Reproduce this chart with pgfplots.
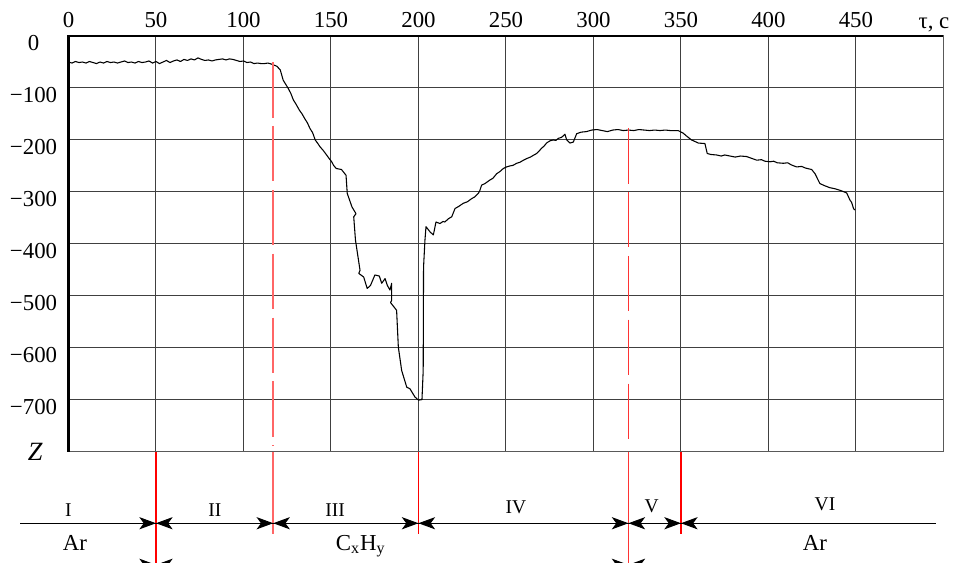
\documentclass[border=0pt]{standalone}
\usepackage{pgfplots}
\pgfplotsset{compat=1.18}
\usepackage{fontspec}
\setmainfont{Liberation Serif}
\usetikzlibrary{arrows.meta}

% boundary mark: two arrowheads meeting at x=#1, on the row y=#2
\newcommand{\bnd}[2]{%
  \draw[-{Stealth[length=0.3cm,width=0.22cm,inset=0.08cm]}, line width=0.5pt] (axis cs:#1-10,#2) -- (axis cs:#1,#2);
  \draw[-{Stealth[length=0.3cm,width=0.22cm,inset=0.08cm]}, line width=0.5pt] (axis cs:#1+10,#2) -- (axis cs:#1,#2);}

\begin{document}
\begin{tikzpicture}
\begin{axis}[
  scale only axis,
  width=15.75cm, height=7.48cm,
  xmin=0, xmax=500, ymin=-800, ymax=0,
  axis line style={black!65, line width=0.7pt},
  xtick={0,50,...,450},
  ytick={-700,-600,...,0},
  yticklabels={−700,−600,−500,−400,−300,−200,−100,0},
  xticklabel pos=upper,
  major tick length=0pt,
  grid=major,
  major grid style={black!75, line width=0.5pt},
  /pgf/number format/assume math mode=true,
  tick label style={font=\fontsize{11.7}{13}\selectfont, inner sep=0pt},
  xticklabel style={anchor=south, yshift=4.1pt},
  yticklabel style={anchor=north, xshift=-17.9pt, yshift=0.5pt},
  clip=false,
]
\addplot[black, line width=0.55pt, line join=round] coordinates {
(0,-50) (2,-52) (4,-49) (6,-51) (8,-50) (10,-52) (12,-49) (14,-51) (16,-53) (18,-50)
(20,-52) (22,-49) (24,-51) (26,-50) (28,-52) (30,-50) (32,-48) (34,-51) (36,-50) (38,-52)
(40,-49) (42,-51) (44,-50) (46,-48) (48,-52) (50,-49) (52,-53) (54,-50) (56,-47) (58,-51)
(60,-48) (62,-46) (64,-49) (66,-45) (68,-47) (70,-44) (72,-46) (74,-42) (76,-45) (78,-47)
(80,-46) (82,-48) (84,-46) (86,-45) (88,-44) (90,-46) (92,-44) (94,-45) (96,-47) (98,-49)
(100,-48) (102,-51) (104,-50) (106,-53) (108,-52) (110,-53) (112,-53) (114,-52) (116,-54)
(119,-58) (121,-65) (122.7,-85) (125.6,-101) (127,-110) (128.5,-123) (130,-131) (132,-143)
(133.5,-150) (135,-159) (136.5,-167) (138,-178) (139.5,-186) (141,-200) (142.5,-207)
(143.7,-213) (145.5,-220) (147.5,-229) (149,-236) (150.4,-242) (151.5,-249) (153,-255)
(156,-257) (158.6,-268)
(159.3,-303) (162,-329) (164.3,-342) (163,-348) (164,-393) (166.6,-451) (165.9,-457)
(168.7,-464) (170.7,-486) (172.6,-480) (175.1,-460) (177.6,-462) (179,-476) (180.9,-467)
(182.2,-480) (183.7,-489) (184.7,-476) (184.7,-509) (184,-513) (187.5,-528) (188.5,-599)
(190.4,-644) (193.3,-676) (195.1,-679) (198,-695) (200,-701) (202,-700) (202.7,-644)
(202.9,-445) (203.7,-393) (204.3,-367) (206.6,-377) (208.5,-383) (210,-358) (212.3,-361)
(214,-357) (215.1,-358) (217,-352) (219,-348) (220.9,-332) (223,-328) (225.6,-322)
(228,-319) (230.4,-313) (232,-310) (234.2,-303) (235,-298) (236.1,-287) (238,-284)
(240.9,-277) (242.5,-274) (244.7,-265) (246.5,-261) (248.5,-255) (250.3,-252) (252.3,-250)
(254,-249) (256.1,-245) (258,-243) (260,-239) (261.8,-236) (264,-233) (266,-229)
(267.6,-226) (269,-221) (270.4,-216) (272,-211) (273.2,-206) (275,-202) (277,-200)
(278.5,-201) (279.9,-197) (281.8,-195) (283.7,-189) (284.7,-200)
(286.6,-206) (288.5,-204) (290.4,-188) (293,-185) (296,-184) (299,-181) (302,-180)
(305,-182) (308,-184) (311,-181) (314,-180) (317,-182) (320,-181) (323,-182) (326,-180)
(329,-181) (332,-182) (335,-181) (338,-182) (341,-181) (344,-182) (348.4,-182)
(351.3,-187) (353,-192) (356,-200) (358,-203) (359.9,-206) (363.7,-207) (365,-226)
(367,-228) (370.4,-229) (373,-231) (375,-229) (378,-231) (381,-233) (384,-231)
(387.5,-232) (390,-235) (393.3,-239) (396,-238) (398,-241) (400.9,-242) (403,-241)
(405,-244) (408.5,-245) (411,-244) (413,-248) (416.1,-252) (419,-251) (421,-254)
(424.7,-257) (426.6,-265)
(429.4,-284) (432,-288) (435.1,-292) (438,-294) (440.9,-297) (444.7,-302) (446.6,-316)
(447.5,-320) (448.6,-332) (449.4,-335)
};
% heavy left and top axis lines
\draw[black, line width=1.3pt] (axis cs:0,-800) -- (axis cs:0,0) -- (axis cs:500,0);
\node[font=\fontsize{11.7}{13}\selectfont, anchor=base, inner sep=0pt] at (axis cs:494.6,0) [yshift=4.1pt] {τ, c};
\node[font=\fontsize{13.5}{15}\selectfont\itshape] at (axis cs:-19,-800) {Z};
% red boundary lines
\draw[red, line width=0.55pt] (axis cs:50,-800) -- (axis cs:50,-1030);
\draw[red!60, line width=1pt, dash pattern=on 1cm off 0.15cm] (axis cs:117,-50) -- (axis cs:117,-790);
\draw[red!60, line width=0.8pt] (axis cs:117,-800) -- (axis cs:117,-958);
\draw[red, line width=0.55pt] (axis cs:200,-800) -- (axis cs:200,-958);
\draw[red!80, line width=0.8pt, dash pattern=on 1cm off 0.15cm] (axis cs:320,-177) -- (axis cs:320,-790);
\draw[red!80, line width=0.6pt] (axis cs:320,-800) -- (axis cs:320,-1030);
\draw[red, line width=0.55pt] (axis cs:350,-800) -- (axis cs:350,-958);
% stage row
\draw[black, line width=0.5pt] (axis cs:-27.7,-938) -- (axis cs:496,-938);
\bnd{50}{-938}
\bnd{117}{-938}
\bnd{200}{-938}
\bnd{320}{-938}
\bnd{350}{-938}
\bnd{50}{-1018}
\bnd{320}{-1018}
\begin{scope}[every node/.style={font=\fontsize{10}{12}\selectfont, anchor=base, inner sep=0pt}]
\node at (axis cs:0,-925) {I};
\node at (axis cs:83.7,-925) {II};
\node at (axis cs:152.3,-925) {III};
\node at (axis cs:255.7,-919) {IV};
\node at (axis cs:333.3,-917) {V};
\node at (axis cs:432.3,-913) {VI};
\end{scope}
\begin{scope}[every node/.style={font=\fontsize{11.7}{13}\selectfont, anchor=base, inner sep=0pt}]
\node at (axis cs:3.7,-990) {Ar};
\node at (axis cs:167,-990) {C\textsubscript{x}H\textsubscript{y}};
\node at (axis cs:426.6,-990) {Ar};
\end{scope}
\coordinate (bbsw) at (axis cs:-39.14,-1013.5);
\coordinate (bbne) at (axis cs:506.6,69.4);
\end{axis}
\pgfresetboundingbox
\useasboundingbox (bbsw) rectangle (bbne);
\end{tikzpicture}
\end{document}
